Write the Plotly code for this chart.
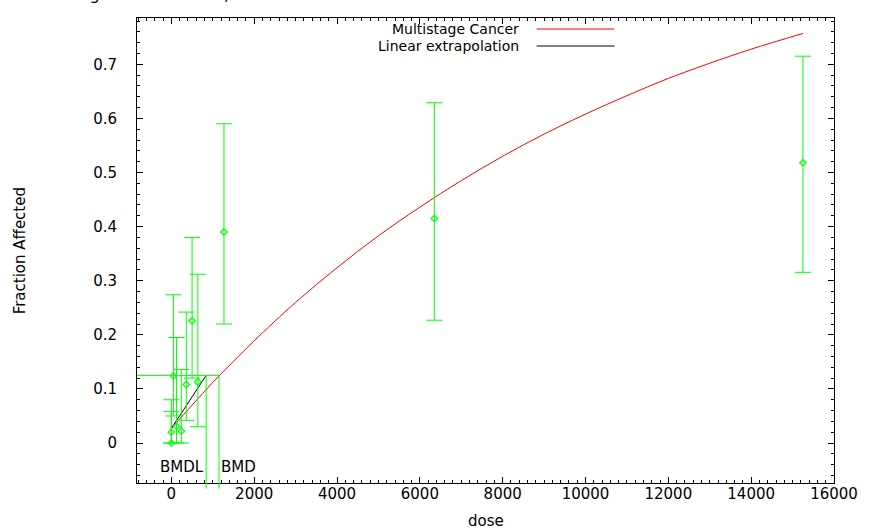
import plotly.graph_objects as go

# Observed dose groups: dose, fraction affected and confidence limits
dose = [0, 0, 50, 125, 240, 360, 500, 640, 1270, 6350, 15250]
frac = [0.0, 0.02, 0.124, 0.031, 0.022, 0.108, 0.226, 0.113, 0.39, 0.415, 0.518]
ci_low = [0.0, 0.0, 0.05, 0.0, 0.0, 0.042, 0.12, 0.03, 0.22, 0.227, 0.3155]
ci_high = [0.058, 0.08, 0.274, 0.195, 0.136, 0.242, 0.38, 0.312, 0.59, 0.629, 0.715]

# Fitted multistage cancer curve
curve_dose = [0, 500, 1000, 1500, 2000, 3000, 4000, 5000, 6000, 7000, 8000,
              9000, 10000, 11000, 12000, 13000, 14000, 15250]
curve_resp = [0.027, 0.070, 0.112, 0.151, 0.189, 0.260, 0.324, 0.383, 0.436,
              0.485, 0.530, 0.571, 0.608, 0.642, 0.674, 0.702, 0.728, 0.757]

# Benchmark dose results
bmd = 1150
bmdl = 840
bmr_level = 0.125
background = 0.027

x_ticks = [0, 2000, 4000, 6000, 8000, 10000, 12000, 14000, 16000]
y_ticks = [0, 0.1, 0.2, 0.3, 0.4, 0.5, 0.6, 0.7]

X_RANGE = [-830, 16000]
Y_RANGE = [-0.0739, 0.7856]

FONT = "DejaVu Sans"
GREEN = "#00ff00"

fig = go.Figure()

# Dose-response curve
fig.add_trace(go.Scatter(
    x=curve_dose, y=curve_resp, mode="lines", line_shape="spline",
    line=dict(color="#ff0000", width=1), showlegend=False, hoverinfo="skip"))

# Linear extrapolation from background to the BMDL
fig.add_trace(go.Scatter(
    x=[0, bmdl], y=[background, bmr_level], mode="lines",
    line=dict(color="black", width=1), showlegend=False, hoverinfo="skip"))

# Observed fractions with confidence limits
fig.add_trace(go.Scatter(
    x=dose, y=frac, mode="markers",
    marker=dict(symbol="diamond-open", size=5, color=GREEN, line=dict(width=1.2, color=GREEN)),
    error_y=dict(type="data", symmetric=False,
                 array=[h - f for h, f in zip(ci_high, frac)],
                 arrayminus=[f - l for f, l in zip(frac, ci_low)],
                 color=GREEN, thickness=1, width=8),
    showlegend=False))

def py(v):
    return (v - Y_RANGE[0]) / (Y_RANGE[1] - Y_RANGE[0])

shapes = [
    # BMR level line up to the BMD
    dict(type="line", xref="x", yref="y", x0=X_RANGE[0], x1=bmd, y0=bmr_level, y1=bmr_level,
         line=dict(color=GREEN, width=1)),
    # drop lines at BMDL and BMD
    dict(type="line", xref="x", yref="paper", x0=bmdl, x1=bmdl, y0=py(bmr_level), y1=-0.012,
         line=dict(color=GREEN, width=1)),
    dict(type="line", xref="x", yref="paper", x0=bmd, x1=bmd, y0=py(bmr_level), y1=-0.012,
         line=dict(color=GREEN, width=1)),
]

# Key: label on the left, line sample on the right
W, H = 708, 465
def kx(px):
    return (px - 137) / W
def ky(px):
    return (483 - px) / H

key_items = [("Multistage Cancer", "#ff0000", 29), ("Linear extrapolation", "black", 46)]
annotations = []
for label, col, ypx in key_items:
    annotations.append(dict(text=label, xref="paper", yref="paper", x=kx(526), y=ky(ypx),
                            xanchor="right", yanchor="middle", showarrow=False, borderpad=0,
                            font=dict(family=FONT, size=14, color="black")))
    shapes.append(dict(type="line", xref="paper", yref="paper", x0=kx(543), x1=kx(622),
                       y0=ky(ypx), y1=ky(ypx), line=dict(color=col, width=1)))

annotations += [
    dict(text="BMDL", x=bmdl, y=-0.045, xref="x", yref="y", xanchor="right", yanchor="middle",
         showarrow=False, font=dict(family=FONT, size=15, color="black")),
    dict(text="BMD", x=bmd, y=-0.045, xref="x", yref="y", xanchor="left", yanchor="middle",
         showarrow=False, font=dict(family=FONT, size=15, color="black")),
    dict(text="dose", xref="paper", yref="paper", x=0.5, y=ky(521), xanchor="center",
         yanchor="middle", showarrow=False, font=dict(family=FONT, size=15, color="black")),
    dict(text="Fraction Affected", xref="paper", yref="paper", x=kx(18), y=0.5, textangle=-90,
         xanchor="center", yanchor="middle", showarrow=False,
         font=dict(family=FONT, size=15, color="black")),
    dict(text="Multistage Cancer Model, with BMR of 10% Extra Risk for the BMD and 0.95 "
              "Lower Confidence Limit for the BMDL",
         xref="paper", yref="paper", x=kx(23), y=ky(5), xanchor="left", yanchor="bottom",
         showarrow=False, borderpad=0, font=dict(family=FONT, size=16, color="black")),
]

axis_common = dict(
    showline=True, linecolor="black", linewidth=1, mirror="allticks",
    ticks="inside", ticklen=6, tickcolor="black", tickwidth=1,
    showgrid=False, zeroline=False,
    tickfont=dict(family=FONT, size=15, color="black"),
)

fig.update_xaxes(range=X_RANGE, tickvals=x_ticks, tickformat="d", ticklabelstandoff=-3,
                 minor=dict(dtick=200, tick0=0, ticks="inside", ticklen=3, tickcolor="black"),
                 **axis_common)
fig.update_yaxes(range=Y_RANGE, tickvals=y_ticks, ticklabelstandoff=16,
                 minor=dict(dtick=0.02, tick0=0, ticks="inside", ticklen=3, tickcolor="black"),
                 **axis_common)

fig.update_layout(
    width=870, height=530,
    margin=dict(l=137, r=25, t=18, b=47),
    paper_bgcolor="white", plot_bgcolor="white",
    shapes=shapes, annotations=annotations,
    font=dict(family=FONT, size=15, color="black"),
)

fig.write_html("out.html")
